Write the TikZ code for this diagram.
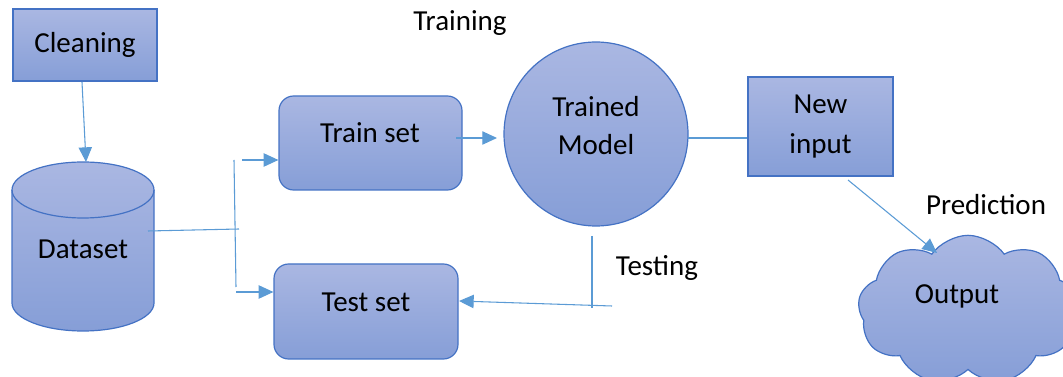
\documentclass[tikz,border=0pt]{standalone}
\usepackage{fontspec}
\setmainfont{Carlito}
\usetikzlibrary{arrows.meta,shapes.symbols}
\definecolor{fillTop}{RGB}{170,183,226}
\definecolor{fillBot}{RGB}{134,158,215}
\definecolor{edgec}{RGB}{68,114,196}
\definecolor{connc}{RGB}{91,155,213}
\begin{document}
\begin{tikzpicture}[x=0.75pt,y=-0.75pt,
  shapebox/.style={draw=edgec, line width=0.9pt, top color=fillTop, bottom color=fillBot, inner sep=0pt},
  txt/.style={font=\fontsize{21.75}{28.5}\selectfont, align=center, inner sep=0pt, text=black},
  conn/.style={draw=connc, line width=0.8pt},
  arr/.style={conn, -{Triangle[length=11pt,width=10pt]}}]
\useasboundingbox (0,0) rectangle (1063,377);
\clip (0,0) rectangle (1063,377);

% Cleaning
\node[shapebox, txt, minimum width=108pt, minimum height=54pt] (clean) at (85,45) {Cleaning};

% Dataset cylinder
\path[shapebox] (12,190) -- (12,303) arc[start angle=180, end angle=360, x radius=53.25pt, y radius=21pt]
  -- (154,190) arc[start angle=0, end angle=180, x radius=53.25pt, y radius=21pt] -- cycle;
\draw[draw=edgec, line width=0.9pt] (12,190) arc[start angle=180, end angle=360, x radius=53.25pt, y radius=21pt];
\node[txt] (ds) at (83,249) {Dataset};
\coordinate (dstop) at (86,162);
\coordinate (dsr) at (148,231);

% Train / Test
\node[shapebox, rounded corners=11pt, minimum width=137.25pt, minimum height=70.5pt] (train) at (370.5,143) {};
\node[txt] (traint) at (370,133) {Train set};
\node[shapebox, rounded corners=11pt, minimum width=138pt, minimum height=71.25pt] (test) at (366,311.5) {};
\node[txt] (testt) at (366,302) {Test set};

% Model
\node[shapebox, circle, minimum size=138pt] (model) at (596,134) {};
\node[txt] (modelt) at (596,126) {Trained\\Model};

% New input
\node[shapebox, txt, minimum width=108.75pt, minimum height=74.25pt, font=\fontsize{21.75}{30}\selectfont] (newin) at (820.5,126.5) {New\\input};

% Output cloud
\node[shapebox, cloud, cloud puffs=9, cloud puff arc=110, cloud ignores aspect, minimum width=165pt, minimum height=112pt] (out) at (968,310) {};
\node[txt] (outt) at (957,296) {Output};

% Labels
\node[txt] (ltrain) at (460,23) {Training};
\node[txt] (ltest) at (657,268) {Testing};
\node[txt] (lpred) at (986,205) {Prediction};

% Connectors
\coordinate (c0) at (82,82);
\draw[arr] (c0) -- (dstop);
\coordinate (j) at (239,229);
\draw[conn] (dsr) -- (j);
\coordinate (vt) at (234,160);
\coordinate (vb) at (236,287);
\draw[conn] (vt) -- (vb);
\coordinate (tb0) at (242,160);
\draw[arr] (tb0) -- (tb0 -| train.west);
\coordinate (bb0) at (236,292);
\draw[arr] (bb0) -- (bb0 -| test.west);
\coordinate (tr0) at (456,138);
\coordinate (tr1) at (497,138);
\draw[arr] (tr0) -- (tr1);
\coordinate (m0) at (688,138);
\draw[conn] (m0) -- (m0 -| newin.west);
\coordinate (ts0) at (592,236);
\coordinate (ts1) at (592,308);
\draw[conn] (ts0) -- (ts1);
\coordinate (th0) at (612,306);
\coordinate (th1) at (459,301);
\draw[arr] (th0) -- (th1);
\coordinate (p0) at (848,180);
\coordinate (p1) at (937,253);
\draw[arr] (p0) -- (p1);
\end{tikzpicture}
\end{document}
